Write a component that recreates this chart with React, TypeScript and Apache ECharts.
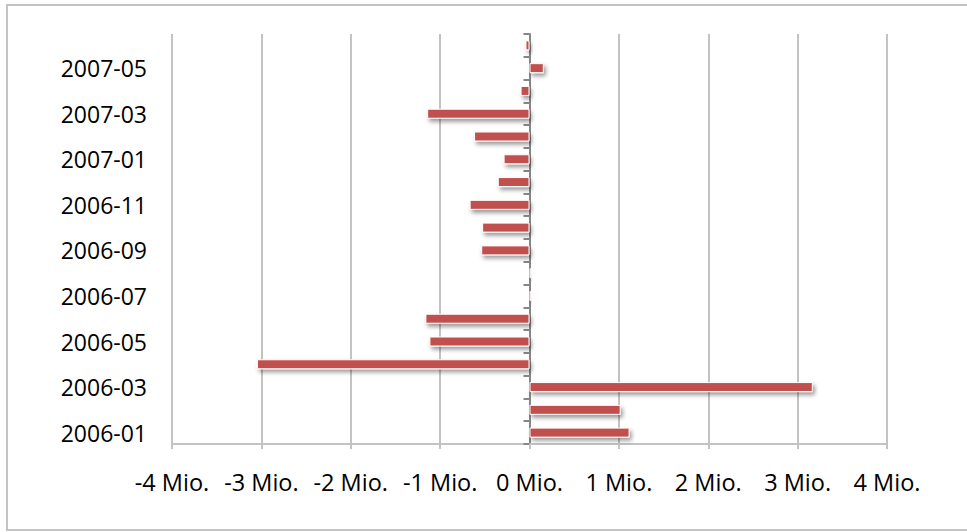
import React, { useEffect, useRef } from "react";
import * as echarts from "echarts";

const categories = [
  "2006-01", "2006-02", "2006-03", "2006-04", "2006-05", "2006-06",
  "2006-07", "2006-08", "2006-09", "2006-10", "2006-11", "2006-12",
  "2007-01", "2007-02", "2007-03", "2007-04", "2007-05", "2007-06",
];
// values in millions
const values = [
  1.12, 1.02, 3.17, -3.05, -1.12, -1.165,
  0.02, 0.02, -0.54, -0.53, -0.67, -0.355,
  -0.29, -0.62, -1.145, -0.1, 0.16, -0.045,
];
const xTicks = [-4, -3, -2, -1, 0, 1, 2, 3, 4];

const FONT = "'Open Sans', 'Noto Sans', sans-serif";

export default function App() {
  const ref = useRef<HTMLDivElement>(null);
  useEffect(() => {
    if (!ref.current) return;
    const chart = echarts.init(ref.current, undefined, { renderer: "svg" });
    chart.setOption({
      animation: false,
      backgroundColor: "#ffffff",
      graphic: [
        {
          type: "rect",
          shape: { x: 7, y: 5, width: 975, height: 525 },
          style: { fill: "none", stroke: "#c3c3c3", lineWidth: 2 },
          silent: true,
        },
      ],
      grid: { left: 172, right: 80, top: 34, bottom: 88, containLabel: false },
      xAxis: {
        type: "value",
        min: xTicks[0],
        max: xTicks[xTicks.length - 1],
        interval: 1,
        axisLine: { show: true, onZero: false, lineStyle: { color: "#c3c3c3", width: 2 } },
        axisTick: { show: true, length: 5, lineStyle: { color: "#c3c3c3", width: 2 } },
        splitLine: { show: true, lineStyle: { color: "#c3c3c3", width: 2 } },
        axisLabel: {
          margin: 26,
          color: "#000",
          fontFamily: FONT,
          fontSize: 23.5,
          formatter: (v: number) => `${v} Mio.`,
        },
      },
      yAxis: [
        {
          type: "category",
          data: categories,
          axisLine: { show: false, onZero: false },
          axisTick: { show: false },
          splitLine: { show: false },
          axisLabel: {
            interval: 1,
            margin: 25,
            color: "#000",
            fontFamily: FONT,
            fontSize: 23,
          },
        },
        {
          type: "category",
          data: categories,
          position: "left",
          axisLine: { show: true, onZero: true, lineStyle: { color: "#868686", width: 2 } },
          axisTick: { show: true, interval: 0, length: 6, lineStyle: { color: "#868686", width: 2 } },
          axisLabel: { show: false },
          splitLine: { show: false },
        },
      ],
      series: [
        {
          type: "bar",
          yAxisIndex: 0,
          data: values,
          barWidth: 10,
          itemStyle: {
            color: "#c0504d",
            borderColor: "#ffffff",
            borderWidth: 1,
            shadowColor: "rgba(0,0,0,0.4)",
            shadowBlur: 4,
            shadowOffsetX: 2,
            shadowOffsetY: 3,
          },
        },
      ],
    });
    return () => chart.dispose();
  }, []);
  return (
    <div
      ref={ref}
      style={{ position: "fixed", left: 0, top: 0, width: 967, height: 532 }}
    />
  );
}
